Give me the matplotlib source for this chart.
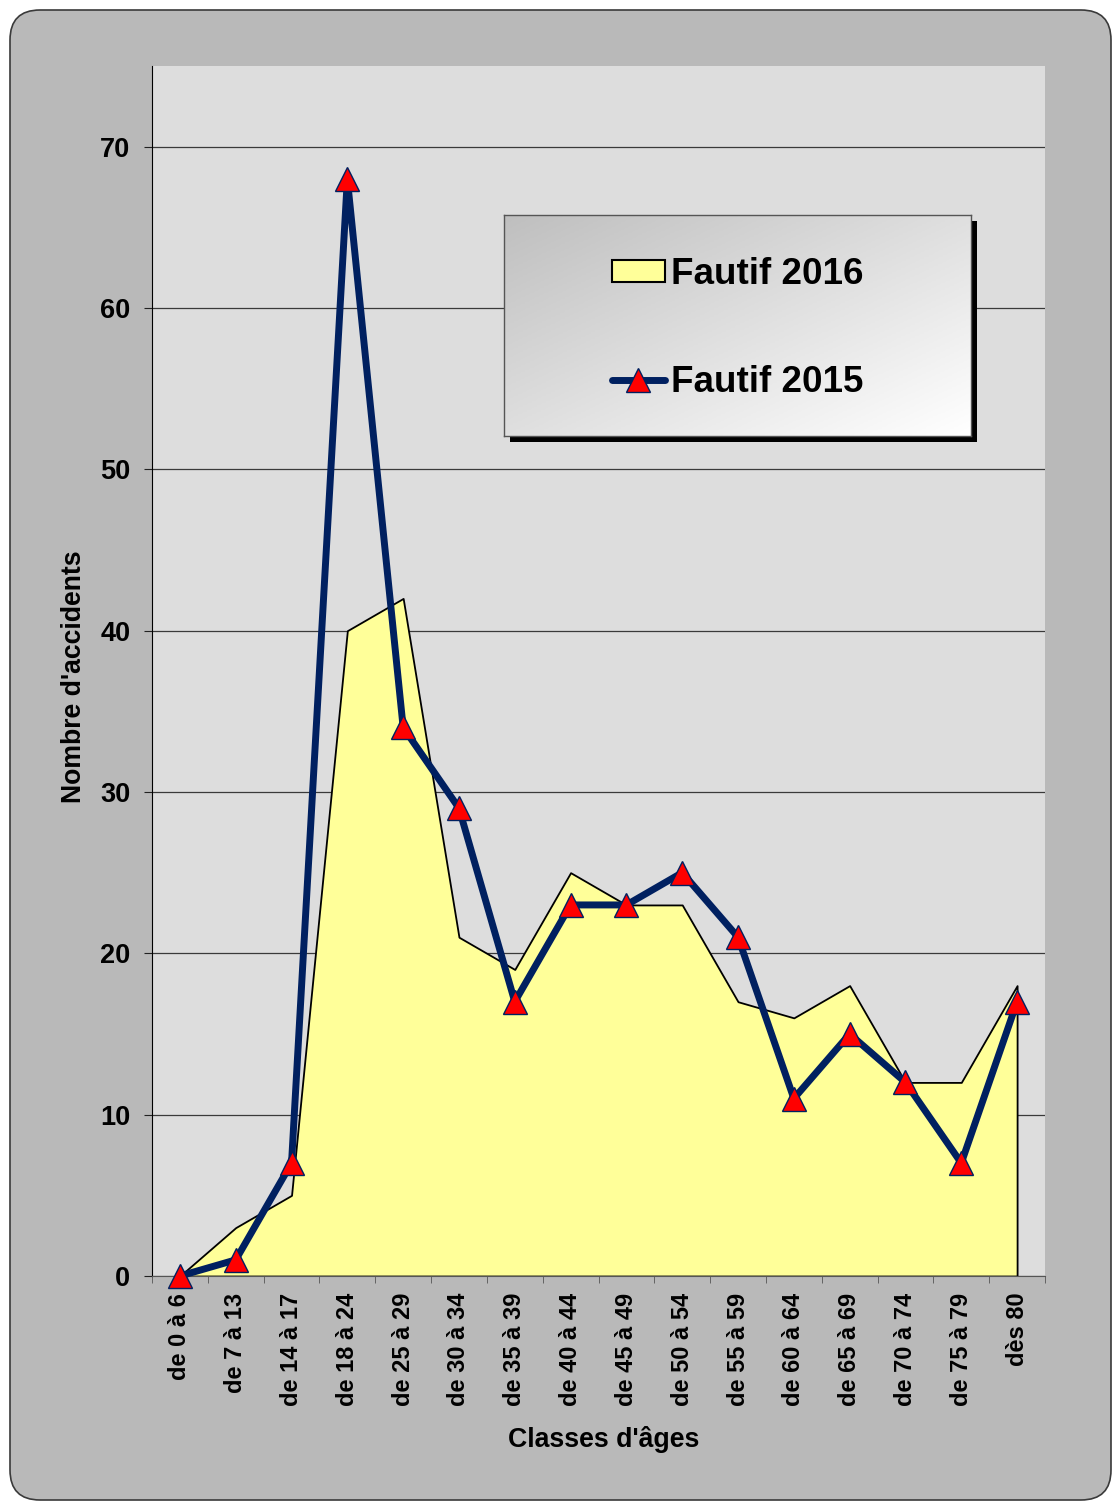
import numpy as np
import matplotlib
matplotlib.use("Agg")
import matplotlib.pyplot as plt
from matplotlib.patches import FancyBboxPatch, Rectangle, Patch
from matplotlib.lines import Line2D
from matplotlib.colors import LinearSegmentedColormap

# Accidents by age class (at-fault drivers)
classes = ["de 0 à 6", "de 7 à 13", "de 14 à 17", "de 18 à 24", "de 25 à 29",
           "de 30 à 34", "de 35 à 39", "de 40 à 44", "de 45 à 49", "de 50 à 54",
           "de 55 à 59", "de 60 à 64", "de 65 à 69", "de 70 à 74", "de 75 à 79",
           "dès 80"]
fautif_2016 = [0, 3, 5, 40, 42, 21, 19, 25, 23, 23, 17, 16, 18, 12, 12, 18]
fautif_2015 = [0, 1, 7, 68, 34, 29, 17, 23, 23, 25, 21, 11, 15, 12, 7, 17]
y_ticks = [0, 10, 20, 30, 40, 50, 60, 70]

W, H = 1118, 1502
FONT = "Liberation Sans"
NAVY = "#002060"

fig = plt.figure(figsize=(W / 100, H / 100), dpi=100, facecolor="white")

# rounded grey background, drawn in pixel units so corners stay circular
bg = fig.add_axes([0, 0, 1, 1], zorder=-1)
bg.set_xlim(0, W)
bg.set_ylim(H, 0)
bg.axis("off")
bg.add_patch(FancyBboxPatch((10, 10), 1101, 1490,
                            boxstyle="round,pad=0,rounding_size=30",
                            facecolor="#b9b9b9", edgecolor="#3a3a3a", lw=1.2))

ax = fig.add_axes([152 / W, 1 - 1276 / H, 893 / W, 1210 / H], zorder=0)
ax.set_facecolor("#dddddd")

x = np.arange(len(classes))
ax.fill_between(x, fautif_2016, 0, facecolor="#ffff99", edgecolor="black",
                lw=1.3, zorder=2)
ax.plot(x, fautif_2015, color=NAVY, lw=5, marker="^", ms=17,
        mfc="#ff0000", mec=NAVY, mew=1, zorder=4, clip_on=False)

ax.set_xlim(-0.5, len(classes) - 0.5)
ax.set_ylim(0, 75)
ax.set_yticks(y_ticks)
ax.yaxis.grid(True, color="#3a3a3a", lw=0.9)
ax.set_axisbelow(True)

ax.set_xticks(x)
ax.set_xticklabels(classes, rotation=90, fontsize=17, fontweight="bold",
                   family=FONT)
ax.set_xticks(np.arange(-0.5, len(classes)), minor=True)
ax.tick_params(axis="x", which="major", length=0, pad=12)
ax.tick_params(axis="x", which="minor", length=5, color="#555555")
ax.tick_params(axis="y", length=5.5, pad=10, color="#222222")
for lbl in ax.get_yticklabels():
    lbl.set_fontsize(19.5)
    lbl.set_fontweight("bold")
    lbl.set_family(FONT)

for side in ("top", "right"):
    ax.spines[side].set_visible(False)
ax.spines["left"].set_color("black")
ax.spines["bottom"].set_color("#555555")

ax.set_xlabel("Classes d'âges", fontsize=19.2, fontweight="bold", family=FONT)
ax.set_ylabel("Nombre d'accidents", fontsize=19.2, fontweight="bold", family=FONT)
ax.xaxis.set_label_coords(0.506, -0.124)
ax.yaxis.set_label_coords(-0.073, 0.495)

# legend box: drop shadow + diagonal grey-to-white gradient
bx, by, bw, bh = 504, 215, 467, 221
fig.add_artist(Rectangle(((bx + 6) / W, 1 - (by + bh + 6) / H), bw / W, bh / H,
                         transform=fig.transFigure, facecolor="black",
                         edgecolor="none", zorder=2))
lax = fig.add_axes([bx / W, 1 - (by + bh) / H, bw / W, bh / H], zorder=3)
rows, cols = np.mgrid[0:100, 0:200]
grad = (cols / 199 + rows / 99) / 2
cmap = LinearSegmentedColormap.from_list("box", ["#bfbfbf", "#ffffff"])
lax.imshow(grad, cmap=cmap, extent=[0, 1, 0, 1], aspect="auto", origin="upper")
lax.set_xticks([])
lax.set_yticks([])
for sp in lax.spines.values():
    sp.set_color("#555555")
    sp.set_linewidth(1)

handles = [
    Patch(facecolor="#ffff99", edgecolor="black", lw=1.5),
    Line2D([], [], color=NAVY, lw=5, marker="^", ms=17, mfc="#ff0000",
           mec=NAVY, mew=1, solid_capstyle="round"),
]
leg = fig.legend(handles, ["Fautif 2016", "Fautif 2015"], loc="center",
                 bbox_to_anchor=((bx + bw / 2) / W, 1 - (by + bh / 2 + 3) / H),
                 frameon=False, prop={"family": FONT, "weight": "bold", "size": 26.5},
                 handlelength=1.45, handleheight=0.55, handletextpad=0.15,
                 labelspacing=2.0, borderpad=0)
leg.set_zorder(5)

fig.savefig("out.png", dpi=100, facecolor="white")
